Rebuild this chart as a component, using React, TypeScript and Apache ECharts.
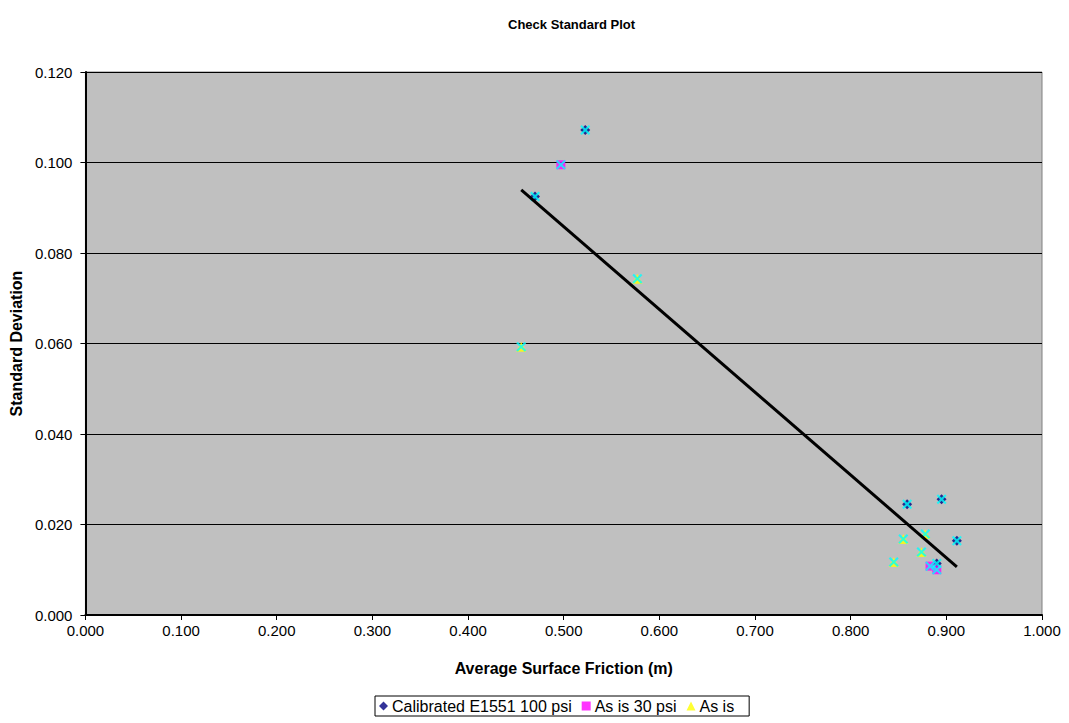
import React, { useEffect, useRef } from "react";
import * as echarts from "echarts";

// Average surface friction (x) and standard deviation (y) for each check run
const calibratedX = [0.5225, 0.47, 0.859, 0.895, 0.911, 0.89];
const calibratedY = [0.1072, 0.0925, 0.0245, 0.0256, 0.0164, 0.0114];

const asIs30X = [0.497, 0.883, 0.89];
const asIs30Y = [0.0995, 0.0108, 0.01];

const asIsX = [0.577, 0.4556, 0.855, 0.878, 0.874, 0.845];
const asIsY = [0.0743, 0.0593, 0.0168, 0.0179, 0.0139, 0.0117];

const seriesNames = ["Calibrated E1551 100 psi", "As is 30 psi", "As is"];

const FONT = "Arial, 'Liberation Sans', sans-serif";

const xMark =
  "path://M0,1.5 L1.5,0 L5,3.5 L8.5,0 L10,1.5 L6.5,5 L10,8.5 L8.5,10 L5,6.5 L1.5,10 L0,8.5 L3.5,5 Z";

function pairs(xs: number[], ys: number[]) {
  return xs.map((x, i) => [x, ys[i]]);
}

export default function App() {
  const ref = useRef<HTMLDivElement>(null);

  useEffect(() => {
    if (!ref.current) return;
    const chart = echarts.init(ref.current, null, { renderer: "svg" });

    const all = [
      ...pairs(calibratedX, calibratedY),
      ...pairs(asIs30X, asIs30Y),
      ...pairs(asIsX, asIsY),
    ];
    // least-squares trendline across every run
    const n = all.length;
    const mx = all.reduce((s, p) => s + p[0], 0) / n;
    const my = all.reduce((s, p) => s + p[1], 0) / n;
    let sxy = 0;
    let sxx = 0;
    all.forEach(([x, y]) => {
      sxy += (x - mx) * (y - my);
      sxx += (x - mx) * (x - mx);
    });
    const slope = sxy / sxx;
    const icpt = my - slope * mx;
    const xs = all.map((p) => p[0]);
    const x0 = Math.min(...xs);
    const x1 = Math.max(...xs);
    const trend = [
      [x0, icpt + slope * x0],
      [x1, icpt + slope * x1],
    ];

    const tickLabel = {
      fontFamily: FONT,
      fontSize: 15,
      color: "#000",
      margin: 13,
      formatter: (v: number) => v.toFixed(3),
    };

    chart.setOption({
      animation: false,
      backgroundColor: "#ffffff",
      title: {
        text: "Check Standard Plot",
        left: 503,
        top: 13,
        textStyle: { fontFamily: FONT, fontSize: 13, fontWeight: "bold", color: "#000" },
      },
      grid: {
        left: 85,
        right: 27,
        top: 72,
        bottom: 108,
        show: true,
        backgroundColor: "#C0C0C0",
        borderColor: "#808080",
        borderWidth: 1,
      },
      legend: {
        data: [
          { name: seriesNames[0], icon: "diamond" },
          { name: seriesNames[1], icon: "rect" },
          { name: seriesNames[2], icon: "triangle" },
        ],
        top: 696,
        left: 375,
        orient: "horizontal",
        itemWidth: 9,
        itemHeight: 9,
        itemGap: 10,
        borderColor: "#000",
        borderWidth: 1,
        padding: [2, 15, 2, 4],
        textStyle: { fontFamily: FONT, fontSize: 16, color: "#000", padding: [0, 0, 0, -1] },
      },
      xAxis: {
        type: "value",
        min: 0,
        max: 1,
        interval: 0.1,
        name: "Average Surface Friction (m)",
        nameLocation: "middle",
        nameGap: 45,
        nameTextStyle: { fontFamily: FONT, fontSize: 16, fontWeight: "bold", color: "#000" },
        axisLine: { show: true, onZero: false, lineStyle: { color: "#000", width: 2 } },
        axisTick: { show: true, length: 5, lineStyle: { color: "#000", width: 1 } },
        axisLabel: { ...tickLabel, margin: 8 },
        splitLine: { show: false },
      },
      yAxis: {
        type: "value",
        min: 0,
        max: 0.12,
        interval: 0.02,
        name: "Standard Deviation",
        nameLocation: "middle",
        nameGap: 60,
        nameRotate: 90,
        nameTextStyle: { fontFamily: FONT, fontSize: 16, fontWeight: "bold", color: "#000" },
        axisLine: { show: true, onZero: false, lineStyle: { color: "#000", width: 2 } },
        axisTick: { show: true, length: 5, lineStyle: { color: "#000", width: 1 } },
        axisLabel: tickLabel,
        splitLine: { show: true, lineStyle: { color: "#000", width: 1 } },
      },
      series: [
        {
          name: seriesNames[0],
          type: "scatter",
          symbol: "diamond",
          symbolSize: 10,
          itemStyle: { color: "#000080" },
          data: pairs(calibratedX, calibratedY),
          z: 2,
        },
        {
          name: seriesNames[1],
          type: "scatter",
          symbol: "rect",
          symbolSize: 9,
          itemStyle: { color: "#FF00FF" },
          data: pairs(asIs30X, asIs30Y),
          z: 3,
        },
        {
          name: seriesNames[2],
          type: "scatter",
          symbol: "triangle",
          symbolSize: 10,
          itemStyle: { color: "#FFFF00" },
          data: pairs(asIsX, asIsY),
          z: 4,
        },
        {
          name: "All",
          type: "scatter",
          symbol: xMark,
          symbolSize: 10,
          itemStyle: { color: "#00FFFF" },
          data: all,
          z: 5,
        },
        {
          name: "Trend",
          type: "line",
          data: trend,
          symbol: "none",
          lineStyle: { color: "#000", width: 3 },
          z: 6,
        },
      ],
    });

    return () => chart.dispose();
  }, []);

  return (
    <div
      ref={ref}
      style={{ position: "fixed", left: 0, top: 0, width: 1069, height: 723 }}
    />
  );
}
